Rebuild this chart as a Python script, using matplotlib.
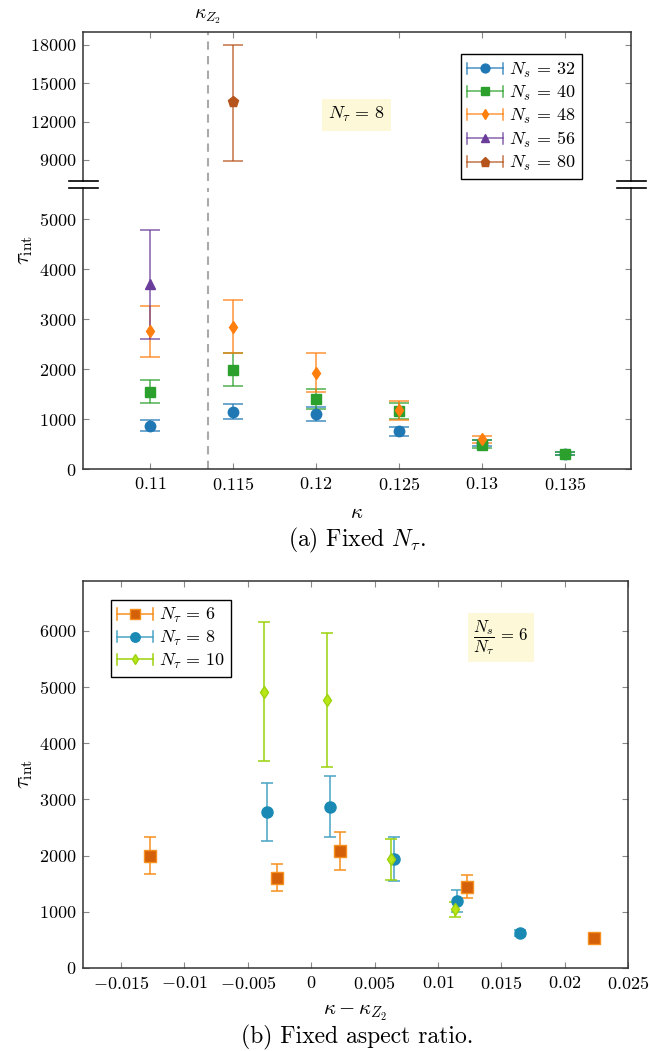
"""Autocorrelation time tau_int vs kappa: (a) fixed N_tau with broken y-axis,
(b) fixed aspect ratio vs kappa - kappa_Z2."""
import matplotlib

matplotlib.use("Agg")
import matplotlib.pyplot as plt
from matplotlib.legend_handler import HandlerBase
from matplotlib.lines import Line2D
from matplotlib.colors import to_rgba

plt.rcParams["font.family"] = "serif"
plt.rcParams["font.serif"] = ["cmr10", "DejaVu Serif"]
plt.rcParams["mathtext.fontset"] = "cm"
plt.rcParams["axes.formatter.use_mathtext"] = True
plt.rcParams["font.size"] = 13

# ---------------- data: panel (a), fixed N_tau = 8 ----------------
kappa_z2 = 0.11348

ns_labels = ["32", "40", "48", "56", "80"]
kappa_32 = [0.110, 0.115, 0.120, 0.125, 0.130, 0.135]
tau_32 = [870, 1150, 1100, 760, 515, 310]
err_32_hi = [975, 1295, 1250, 850, 575, 345]
err_32_lo = [765, 995, 955, 670, 455, 275]

kappa_40 = [0.110, 0.115, 0.120, 0.125, 0.130, 0.135]
tau_40 = [1550, 1990, 1410, 1170, 480, 310]
err_40_hi = [1775, 2315, 1610, 1315, 580, 345]
err_40_lo = [1315, 1665, 1195, 995, 415, 280]

kappa_48 = [0.110, 0.115, 0.120, 0.125, 0.130]
tau_48 = [2760, 2840, 1930, 1175, 600]
err_48_hi = [3270, 3380, 2315, 1360, 660]
err_48_lo = [2250, 2315, 1535, 980, 515]

kappa_56 = [0.110]
tau_56 = [3710]
err_56_hi = [4775]
err_56_lo = [2610]

kappa_80 = [0.115]
tau_80 = [13500]
err_80_hi = [18000]
err_80_lo = [8950]

# ---------------- data: panel (b), fixed N_s / N_tau = 6 ----------------
nt_labels = ["6", "8", "10"]
dk_6 = [-0.0127, -0.00268, 0.00229, 0.0123, 0.02233]
tau_6 = [2000, 1607, 2082, 1447, 539]
err_6_hi = [2336, 1845, 2425, 1655, 575]
err_6_lo = [1678, 1370, 1738, 1245, 505]

dk_8 = [-0.00347, 0.00148, 0.0065, 0.0115, 0.0165]
tau_8 = [2781, 2870, 1945, 1192, 617]
err_8_hi = [3297, 3411, 2336, 1388, 670]
err_8_lo = [2265, 2331, 1548, 991, 565]

dk_10 = [-0.00373, 0.00129, 0.0063, 0.01132]
tau_10 = [4911, 4769, 1934, 1050]
err_10_hi = [6157, 5966, 2290, 1180]
err_10_lo = [3678, 3582, 1566, 902]

xticks_a = [0.11, 0.115, 0.12, 0.125, 0.13, 0.135]
xtlab_a = ["0.11", "0.115", "0.12", "0.125", "0.13", "0.135"]
yticks_up = [9000, 12000, 15000, 18000]
yticks_lo = [0, 1000, 2000, 3000, 4000, 5000]
xticks_b = [-0.015, -0.01, -0.005, 0, 0.005, 0.01, 0.015, 0.02, 0.025]
xtlab_b = ["-0.015", "-0.01", "-0.005", "0", "0.005", "0.01", "0.015", "0.02", "0.025"]
yticks_b = [0, 1000, 2000, 3000, 4000, 5000, 6000]

W, H = 650, 1051


def px_axes(fig, left, top, right, bottom):
    return fig.add_axes([left / W, 1 - bottom / H, (right - left) / W, (bottom - top) / H])


class Spec:
    def __init__(self, ecol, mface, medge, marker, ms):
        self.ecol, self.mface, self.medge, self.marker, self.ms = ecol, mface, medge, marker, ms


class CapLineHandler(HandlerBase):
    """pgfplots-like legend entry: horizontal bar with end caps + marker."""

    def create_artists(self, legend, h, xd, yd, width, height, fontsize, trans):
        y = height / 2 - yd
        x0, x1 = -xd, width - xd
        cap = height * 0.45
        arts = [Line2D([x0, x1], [y, y], color=h.ecol, lw=1.1),
                Line2D([x0, x0], [y - cap, y + cap], color=h.ecol, lw=1.1),
                Line2D([x1, x1], [y - cap, y + cap], color=h.ecol, lw=1.1),
                Line2D([(x0 + x1) / 2], [y], ls="", marker=h.marker, ms=h.ms,
                       mfc=h.mface, mec=h.medge)]
        for a in arts:
            a.set_transform(trans)
        return arts


def style_axes(ax):
    ax.tick_params(direction="in", length=4, color="#888888", width=0.8,
                   labelsize=13, pad=5)
    for s in ax.spines.values():
        s.set_linewidth(1.1)
        s.set_color("#333333")


def ebar(ax, x, y, lo, hi, ecol, mface, medge, marker, ms, capsize, alpha_e=0.75):
    yerr = [[yy - l for yy, l in zip(y, lo)], [h - yy for yy, h in zip(y, hi)]]
    ax.errorbar(x, y, yerr=yerr, fmt=marker, ms=ms, mfc=mface, mec=medge,
                ecolor=to_rgba(ecol, alpha_e), elinewidth=1.3, capsize=capsize,
                capthick=1.3, zorder=3)


fig = plt.figure(figsize=(W / 100, H / 100), dpi=100)

# ---------------- panel (a): broken axis ----------------
ax_up = px_axes(fig, 83, 32, 631, 181)
ax_lo = px_axes(fig, 83, 188, 631, 469)
xlim_a = (0.10596, 0.13898)
for ax in (ax_up, ax_lo):
    ax.set_xlim(*xlim_a)
    ax.set_xticks(xticks_a)
    style_axes(ax)
    ax.axvline(kappa_z2, color="#aaaaaa", lw=1.5, ls=(0, (4, 3)), zorder=1)
    ax.tick_params(right=True)
ax_up.set_ylim(7360, 18990)
ax_lo.set_ylim(0, 5620)
ax_up.spines["bottom"].set_visible(False)
ax_lo.spines["top"].set_visible(False)
ax_up.tick_params(top=True, bottom=False, labelbottom=False)
ax_lo.tick_params(top=False, bottom=True)
ax_up.set_yticks(yticks_up)
ax_up.set_yticklabels([f"${v}$" for v in yticks_up])
ax_lo.set_yticks(yticks_lo)
ax_lo.set_yticklabels([f"${v}$" for v in yticks_lo])
ax_lo.set_xticklabels([f"${t}$" for t in xtlab_a])

cols_a = ["#1f77b4", "#2ca02c", "#ff7f0e", "#6a3d9a", "#b5541c"]
marks_a = [("o", 7.5), ("s", 7.0), ("d", 6.5), ("^", 6.5), ("p", 8.0)]
series_a = [(kappa_32, tau_32, err_32_lo, err_32_hi),
            (kappa_40, tau_40, err_40_lo, err_40_hi),
            (kappa_48, tau_48, err_48_lo, err_48_hi),
            (kappa_56, tau_56, err_56_lo, err_56_hi),
            (kappa_80, tau_80, err_80_lo, err_80_hi)]
for (x, y, lo, hi), c, (m, ms) in zip(series_a, cols_a, marks_a):
    for ax in (ax_up, ax_lo):
        ebar(ax, x, y, lo, hi, c, c, c, m, ms, capsize=7, alpha_e=0.7)

# break marks on both sides
for yb in (181, 188):
    for xa, xb in ((69, 98), (617, 646)):
        fig.add_artist(Line2D([xa / W, xb / W], [1 - yb / H, 1 - yb / H],
                              color="black", lw=1.2))

ax_up.annotate(r"$\kappa_{Z_2}$", xy=(kappa_z2, 1), xycoords=("data", "axes fraction"),
               xytext=(0, 4), textcoords="offset points", ha="center", va="bottom",
               fontsize=14)
ax_up.text(0.499, 0.445, r"$N_\tau\,=\,8$", transform=ax_up.transAxes, ha="center",
           va="center", fontsize=13,
           bbox=dict(boxstyle="square,pad=0.35", fc="#fcf8d8", ec="none"))

handles_a = [Spec(to_rgba(c, 0.8), c, c, m, ms * 0.85) for c, (m, ms) in zip(cols_a, marks_a)]
leg = ax_up.legend(handles_a, [rf"$N_s\,=\,{n}$" for n in ns_labels],
                   handler_map={Spec: CapLineHandler()}, loc="upper right",
                   bbox_to_anchor=(0.910, 0.850), borderaxespad=0, fontsize=13,
                   fancybox=False, edgecolor="black", framealpha=1,
                   handlelength=2.0, handletextpad=0.3, labelspacing=0.22,
                   borderpad=0.35)
leg.get_frame().set_linewidth(1.0)
leg.set_zorder(5)

ax_lo.set_xlabel(r"$\kappa$", fontsize=15, labelpad=8)
fig.text(25 / W, 1 - 250 / H, r"$\tau_{\rm int}$", rotation=90, ha="center",
         va="center", fontsize=16)
fig.text(357 / W, 1 - 540 / H, r"(a) Fixed $N_\tau$.", ha="center", va="center",
         fontsize=17)

# ---------------- panel (b) ----------------
axb = px_axes(fig, 83, 581, 628, 968)
style_axes(axb)
axb.tick_params(top=True, right=True)
axb.set_xlim(-0.018, 0.025)
axb.set_ylim(0, 6886)
axb.set_xticks(xticks_b)
axb.set_xticklabels([f"${t}$" for t in xtlab_b])
axb.set_yticks(yticks_b)
axb.set_yticklabels([f"${v}$" for v in yticks_b])

ecols_b = ["#f7901e", "#4aa3c4", "#9cd20c"]
mface_b = ["#d4600a", "#1a8ab5", "#b8e617"]
medge_b = ["#f7901e", "#1a8ab5", "#9cd20c"]
marks_b = [("s", 8.0), ("o", 8.0), ("d", 6.5)]
series_b = [(dk_6, tau_6, err_6_lo, err_6_hi),
            (dk_8, tau_8, err_8_lo, err_8_hi),
            (dk_10, tau_10, err_10_lo, err_10_hi)]
for (x, y, lo, hi), ec, mf, me, (m, ms) in zip(series_b, ecols_b, mface_b, medge_b, marks_b):
    ebar(axb, x, y, lo, hi, ec, mf, me, m, ms, capsize=4, alpha_e=0.85)

handles_b = [Spec(ec, mf, me, m, ms * 0.85)
             for ec, mf, me, (m, ms) in zip(ecols_b, mface_b, medge_b, marks_b)]
legb = axb.legend(handles_b, [rf"$N_\tau\,=\,{n}$" for n in nt_labels],
                  handler_map={Spec: CapLineHandler()}, loc="upper left",
                  bbox_to_anchor=(0.0508, 0.951), borderaxespad=0, fontsize=13,
                  fancybox=False, edgecolor="black", framealpha=1,
                  handlelength=2.0, handletextpad=0.3, labelspacing=0.2,
                  borderpad=0.35)
legb.get_frame().set_linewidth(1.0)

axb.text(0.767, 0.855, r"$\dfrac{N_s}{N_\tau}\,=\,6$", transform=axb.transAxes,
         ha="center", va="center", fontsize=12,
         bbox=dict(boxstyle="square,pad=0.3", fc="#fcf8d8", ec="none"))

axb.set_xlabel(r"$\kappa - \kappa_{Z_2}$", fontsize=15, labelpad=8)
fig.text(25 / W, 1 - 774 / H, r"$\tau_{\rm int}$", rotation=90, ha="center",
         va="center", fontsize=16)
fig.text(357 / W, 1 - 1037 / H, r"(b) Fixed aspect ratio.", ha="center",
         va="center", fontsize=17)

fig.savefig("out.png", dpi=100)
